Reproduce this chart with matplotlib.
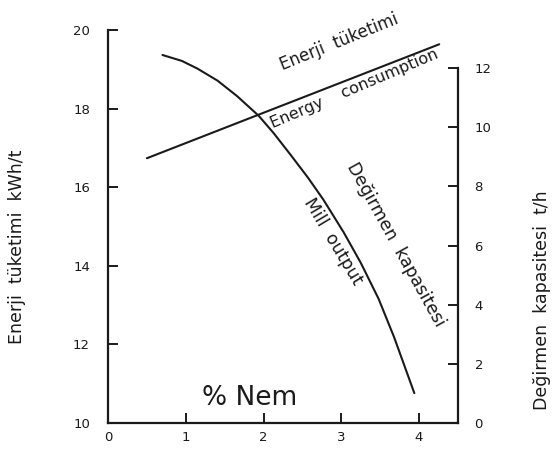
import matplotlib
matplotlib.use('Agg')
import matplotlib.pyplot as plt

# moisture % (x) vs energy consumption (left axis) and mill output (right axis)
energy_x = [0.50, 4.26]
energy_y = [16.74, 19.64]

mill_x = [0.70, 0.95, 1.15, 1.41, 1.66, 1.94, 2.13, 2.35, 2.57, 2.77, 3.03, 3.25, 3.48, 3.68, 3.94]
mill_y = [12.44, 12.24, 11.98, 11.57, 11.05, 10.38, 9.80, 9.06, 8.30, 7.55, 6.45, 5.42, 4.20, 2.90, 1.01]

x_ticks = [0, 1, 2, 3, 4]
left_ticks = [10, 12, 14, 16, 18, 20]
right_ticks = [0, 2, 4, 6, 8, 10, 12]

ink = '#1a1a1a'

fig = plt.figure(figsize=(5.57, 4.5), dpi=100)
ax = fig.add_axes([0.194, 0.06, 0.628, 0.873])
ax.set_xlim(0, 4.5)
ax.set_ylim(10, 20)
ax2 = ax.twinx()
ax2.set_ylim(0, 13.28)

ax.plot(energy_x, energy_y, color=ink, lw=1.5, solid_capstyle='round')
ax2.plot(mill_x, mill_y, color=ink, lw=1.5, solid_joinstyle='round',
         solid_capstyle='round')

for s in ['top', 'right']:
    ax.spines[s].set_visible(False)
for s in ['top', 'left', 'bottom']:
    ax2.spines[s].set_visible(False)
ax2.spines['right'].set_bounds(0, 12)
for sp in [ax.spines['left'], ax.spines['bottom'], ax2.spines['right']]:
    sp.set_linewidth(1.6)
    sp.set_color(ink)

ax.set_xticks(x_ticks)
ax.set_yticks(left_ticks)
ax2.set_yticks(right_ticks)
ax.tick_params(direction='in', length=7, width=1.4, labelsize=9.5, colors=ink)
ax.tick_params(axis='y', pad=13)
ax.tick_params(axis='x', pad=6)
ax2.tick_params(direction='in', length=7, width=1.4, labelsize=9.5, colors=ink, pad=12)

ax.text(2.97, 19.69, 'Enerji  tüketimi', rotation=22, fontsize=12,
        ha='center', va='center', color=ink)
ax.text(3.17, 18.52, 'Energy    consumption', rotation=23, fontsize=11.5,
        ha='center', va='center', color=ink)
ax.text(2.89, 14.63, 'Mill  output', rotation=-59, fontsize=12.5,
        ha='center', va='center', color=ink)
ax.text(3.70, 14.53, 'Değirmen  kapasitesi', rotation=-61, fontsize=12.5,
        ha='center', va='center', color=ink)
ax.text(1.82, 10.64, '% Nem', fontsize=19, ha='center', va='center', color=ink)

fig.text(17 / 557, 1 - 247 / 450, 'Enerji  tüketimi  kWh/t', rotation=90,
         fontsize=12.5, ha='center', va='center', color=ink)
fig.text(542 / 557, 1 - 300 / 450, 'Değirmen  kapasitesi  t/h', rotation=90,
         fontsize=12.5, ha='center', va='center', color=ink)

fig.savefig('out.png', dpi=100)
